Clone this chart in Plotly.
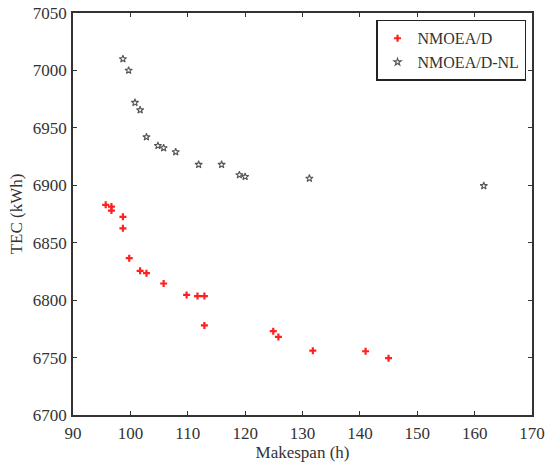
import plotly.graph_objects as go

# NMOEA/D (red asterisks)
nmoead_x = [95.7, 96.7, 96.7, 98.7, 98.7, 99.8, 101.7, 102.8, 105.8, 109.8, 111.7, 112.9, 112.9, 124.9, 125.8, 131.8, 141.0, 145.0]
nmoead_y = [6883, 6881.5, 6878, 6872.5, 6862.5, 6836.5, 6825.5, 6823.5, 6814.5, 6804.5, 6803.5, 6803.5, 6778, 6773, 6768, 6756, 6755.5, 6749.5]

# NMOEA/D-NL (gray stars)
nl_x = [98.7, 99.7, 100.8, 101.7, 102.8, 104.8, 105.8, 107.9, 111.9, 115.9, 119.0, 120.0, 131.2, 161.6]
nl_y = [7010, 7000, 6972, 6965.5, 6942, 6934.5, 6932.5, 6929, 6918, 6918, 6909, 6907.5, 6906, 6899.5]

x_ticks = [90, 100, 110, 120, 130, 140, 150, 160, 170]
y_ticks = [6700, 6750, 6800, 6850, 6900, 6950, 7000, 7050]

FONT = "Liberation Serif"

fig = go.Figure()
fig.add_trace(go.Scatter(
    x=nmoead_x, y=nmoead_y, mode="markers", name="NMOEA/D",
    marker=dict(symbol="cross-thin", size=5, color="#ff2020", line=dict(color="#ff2020", width=2.2)),
))
fig.add_trace(go.Scatter(
    x=nl_x, y=nl_y, mode="markers", name="NMOEA/D-NL",
    marker=dict(symbol="star-open", size=5.5, color="#555555", line=dict(color="#555555", width=1.1)),
))

axis_common = dict(
    showgrid=False, zeroline=False, showline=True, linecolor="#333333", linewidth=1.5,
    mirror="ticks", ticks="inside", ticklen=4, tickwidth=1.3, tickcolor="#333333",
    tickfont=dict(family=FONT, size=17, color="#333333"), automargin=False,
    ticklabeloverflow="allow",
)

fig.update_layout(
    width=548, height=468,
    margin=dict(l=72.5, r=16, t=13, b=53),
    paper_bgcolor="white", plot_bgcolor="white",
    font=dict(family=FONT, color="#333333"),
    xaxis=dict(range=[90, 170], tickvals=x_ticks, ticktext=[str(v) for v in x_ticks],
               ticklabelstandoff=2,
               title=dict(text="Makespan (h)", font=dict(family=FONT, size=17, color="#333333"), standoff=0),
               **axis_common),
    yaxis=dict(range=[6700, 7050], tickvals=y_ticks, ticktext=[str(v) for v in y_ticks],
               ticklabelstandoff=1,
               title=dict(text="TEC (kWh)", font=dict(family=FONT, size=17, color="#333333"), standoff=6),
               **axis_common),
    legend=dict(x=0.987, y=0.983, xanchor="right", yanchor="top",
                bordercolor="#222222", borderwidth=1.5, bgcolor="white",
                font=dict(family=FONT, size=16, color="#333333"),
                tracegroupgap=0, itemsizing="trace", itemwidth=30),
    showlegend=True,
)

# remove the browser's default body margin so the figure sits at the window origin
fig.write_html(
    "out.html",
    config={"displayModeBar": False},
    post_script="document.body.style.margin='0px';document.body.style.overflow='hidden';",
)
